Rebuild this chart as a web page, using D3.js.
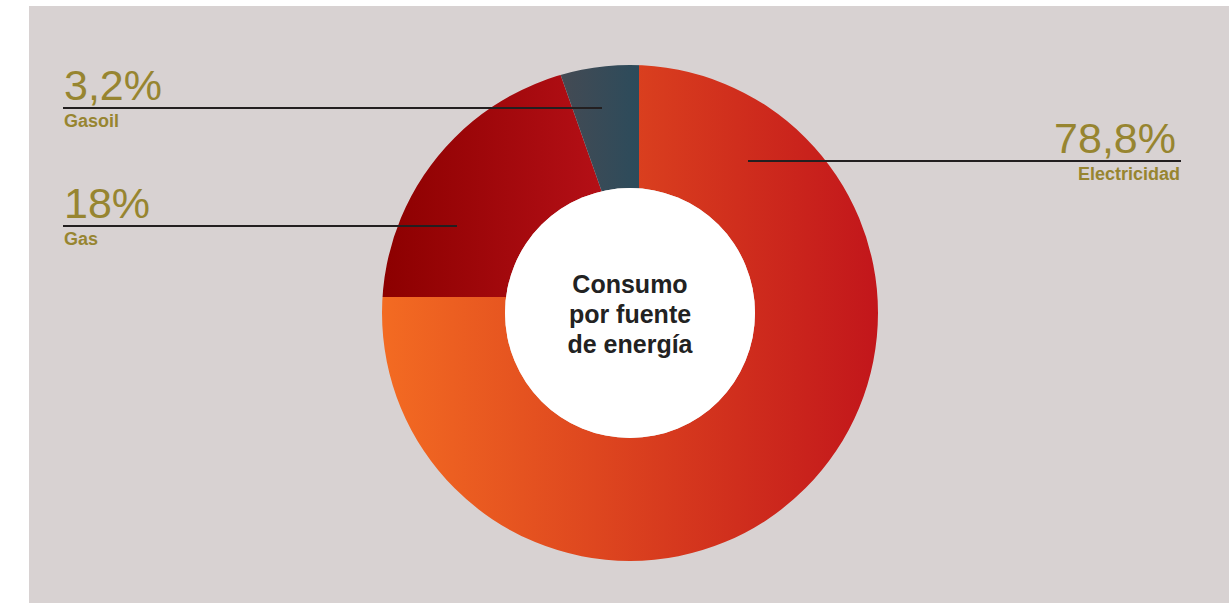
<!DOCTYPE html>
<html>
<head>
<meta charset="utf-8">
<script src="https://cdn.jsdelivr.net/npm/d3@7"></script>
<style>
  body { margin: 0; background: #fff; }
  text { font-family: "Liberation Sans", Arial, sans-serif; }
</style>
</head>
<body>
<script>
// data
const categories = ["Electricidad", "Gas", "Gasoil"];
// share of the ring each slice takes, as drawn
const sliceShare = [75.0, 19.6, 5.4];
// the printed figures
const valueLabels = ["78,8%", "18%", "3,2%"];
const centerLines = ["Consumo", "por fuente", "de energía"];

const w = 1230;
const h = 603;
// ring centre
const cx = 630, cy = 313;
const outerR = 248, innerR = 125;
// the slice cuts meet a bit off the ring centre in the original
const pcx = 639, pcy = 297;
const cutR = 275;

// gradient stops per slice, left -> right
const gradStops = [
  ["#f36b22", "#c2161b"],
  ["#8c0000", "#bb121a"],
  ["#484a52", "#2c4b5b"]
];

// where the leader lines go (annotation layout)
const labelLayout = {
  "Electricidad": { side: "right", lineY: 161, x0: 748, x1: 1181 },
  "Gas":          { side: "left",  lineY: 226, x0: 63,  x1: 457 },
  "Gasoil":       { side: "left",  lineY: 108, x0: 63,  x1: 602 }
};

const svg = d3.select("body")
  .append("svg")
  .attr("width", w)
  .attr("height", h);

svg.append("rect")
  .attr("x", 29)
  .attr("y", 6)
  .attr("width", 1200)
  .attr("height", h - 6)
  .attr("fill", "#d8d2d2");

const defs = svg.append("defs");

// ring shaped clip
defs.append("clipPath")
  .attr("id", "ringClip")
  .append("path")
  .attr("d", d3.arc().innerRadius(innerR).outerRadius(outerR)
    .startAngle(0).endAngle(2 * Math.PI)())
  .attr("transform", "translate(" + cx + "," + cy + ")");

const pie = d3.pie().sort(null).value((d) => d);
const arcs = pie(sliceShare);
const arc = d3.arc().innerRadius(0).outerRadius(cutR);

// gradients run across the visible part of each slice
// (coords local to the slice group, which sits at pcx,pcy)
arcs.forEach((d, i) => {
  const xs = [0];
  d3.range(0, 1.0001, 0.01).forEach((t) => {
    const a = d.startAngle + t * (d.endAngle - d.startAngle);
    xs.push(cutR * Math.sin(a));
  });
  const x1 = Math.max(d3.min(xs), cx - outerR - pcx);
  const x2 = Math.min(d3.max(xs), cx + outerR - pcx);
  const g = defs.append("linearGradient")
    .attr("id", "grad" + i)
    .attr("gradientUnits", "userSpaceOnUse")
    .attr("x1", x1).attr("x2", x2)
    .attr("y1", 0).attr("y2", 0);
  g.append("stop").attr("offset", 0).attr("stop-color", gradStops[i][0]);
  g.append("stop").attr("offset", 1).attr("stop-color", gradStops[i][1]);
});

const ring = svg.append("g")
  .attr("clip-path", "url(#ringClip)")
  .append("g")
  .attr("transform", "translate(" + pcx + "," + pcy + ")");

ring.selectAll("path")
  .data(arcs)
  .enter()
  .append("path")
  .attr("d", arc)
  .attr("fill", (d, i) => "url(#grad" + i + ")");

// white hole
svg.append("circle")
  .attr("cx", cx)
  .attr("cy", cy)
  .attr("r", innerR)
  .attr("fill", "#fff");

svg.selectAll("text.center")
  .data(centerLines)
  .enter()
  .append("text")
  .attr("class", "center")
  .attr("text-anchor", "middle")
  .attr("x", cx)
  .attr("y", (d, i) => cy - 20 + i * 30)
  .attr("font-size", 25)
  .attr("font-weight", "bold")
  .attr("fill", "#222")
  .text((d) => d);

// labels
const labels = svg.append("g");
categories.forEach((c, i) => {
  const L = labelLayout[c];
  labels.append("line")
    .attr("x1", L.x0).attr("x2", L.x1)
    .attr("y1", L.lineY).attr("y2", L.lineY)
    .attr("stroke", "#231f20")
    .attr("stroke-width", 2);

  const tx = L.side === "left" ? L.x0 + 1 : L.x1 - 1;
  const anchor = L.side === "left" ? "start" : "end";

  labels.append("text")
    .attr("x", L.side === "left" ? tx : tx - 4)
    .attr("y", L.lineY - 8)
    .attr("text-anchor", anchor)
    .attr("font-size", 43)
    .attr("fill", "#978530")
    .text(valueLabels[i]);

  labels.append("text")
    .attr("x", tx)
    .attr("y", L.lineY + 19)
    .attr("text-anchor", anchor)
    .attr("font-size", 18)
    .attr("font-weight", "bold")
    .attr("fill", "#978530")
    .text(c);
});
</script>
</body>
</html>
